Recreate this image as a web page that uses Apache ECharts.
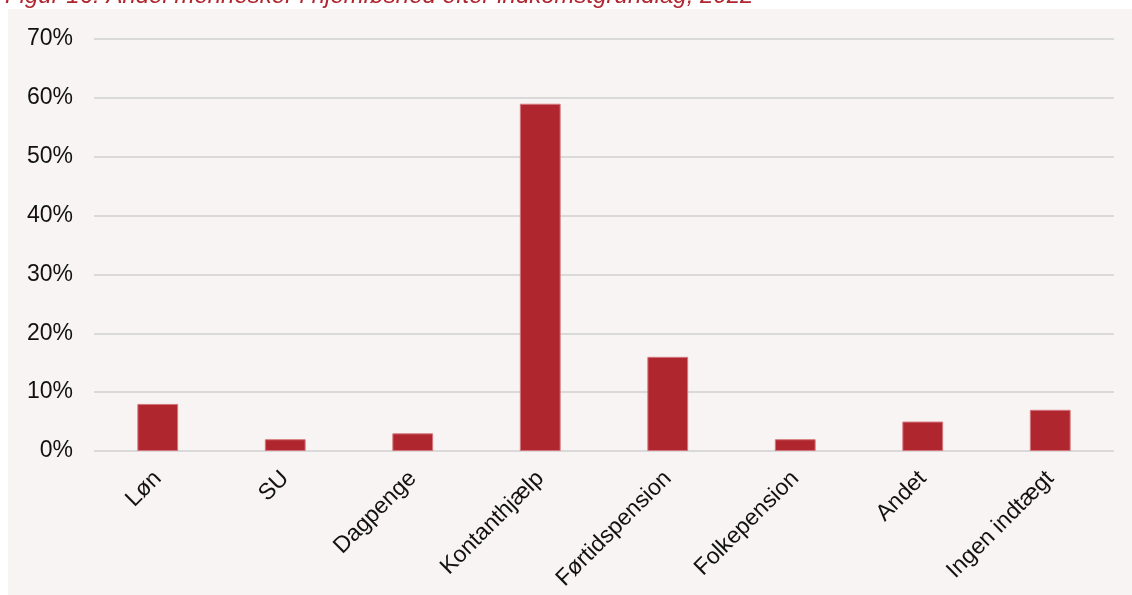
<!DOCTYPE html>
<html>
<head>
<meta charset="utf-8">
<script src="https://cdn.jsdelivr.net/npm/echarts@6/dist/echarts.min.js"></script>
<style>
html,body{margin:0;padding:0;background:#ffffff;width:1132px;height:595px;overflow:hidden;}
#panel{position:absolute;left:8px;top:9px;right:0;bottom:0;background:#f7f4f3;}
#chart{position:absolute;left:0;top:0;width:1132px;height:595px;}
</style>
</head>
<body>
<div id="panel"></div>
<div id="chart"></div>
<script>
const titleText = 'Figur 16: Andel mennesker i hjemløshed efter indkomstgrundlag, 2022';
const categories = ['Løn', 'SU', 'Dagpenge', 'Kontanthjælp', 'Førtidspension', 'Folkepension', 'Andet', 'Ingen indtægt'];
const shares = [8, 2, 3, 59, 16, 2, 5, 7];
const yTicks = [0, 10, 20, 30, 40, 50, 60, 70];

const chart = echarts.init(document.getElementById('chart'), null, {renderer: 'canvas'});
chart.setOption({
  backgroundColor: 'transparent',
  animation: false,
  textStyle: {fontFamily: 'Liberation Sans, Arial, sans-serif'},
  graphic: [{
    type: 'text',
    x: 5,
    y: 8,
    style: {
      text: titleText,
      font: 'italic 24px "Liberation Sans", Arial, sans-serif',
      fill: '#b0262f',
      verticalAlign: 'bottom'
    }
  }],
  grid: {left: 94, right: 18, top: 39, bottom: 144, containLabel: false},
  xAxis: {
    type: 'category',
    data: categories,
    axisLine: {show: false},
    axisTick: {show: false},
    axisLabel: {
      rotate: 45,
      interval: 0,
      margin: 24,
      color: '#111111',
      fontSize: 23,
      fontFamily: 'Liberation Sans, Arial, sans-serif'
    }
  },
  yAxis: {
    type: 'value',
    min: yTicks[0],
    max: yTicks[yTicks.length - 1],
    interval: 10,
    axisLine: {show: false},
    axisTick: {show: false},
    splitLine: {lineStyle: {color: '#d9d9d9', width: 2}},
    axisLabel: {
      formatter: v => v + '%',
      margin: 21,
      color: '#111111',
      fontSize: 23,
      fontFamily: 'Liberation Sans, Arial, sans-serif'
    }
  },
  series: [{
    type: 'bar',
    data: shares,
    barWidth: '32%',
    itemStyle: {color: '#b0262f', borderColor: '#d4767c', borderWidth: 1},
    z: 3
  }]
});
</script>
</body>
</html>
